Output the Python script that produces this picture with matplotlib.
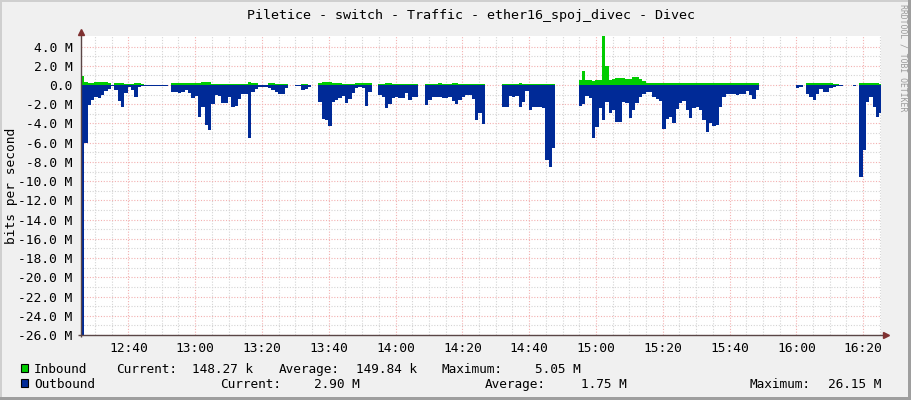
import matplotlib
matplotlib.use("Agg")
import matplotlib.pyplot as plt
import matplotlib.dates as mdates
import matplotlib.ticker as mticker
from matplotlib.patches import Rectangle
import numpy as np
import pandas as pd

nan = np.nan

# one sample per minute, first sample at 12:25:50
start_time = "2024-01-01 12:25:50"

# traffic in Mbit/s (nan = no data)
inbound_m = [
    0.97, 0.35, 0.17, 0.20, 0.28, 0.28, 0.28, 0.28, 0.17, 0.03,
    0.24, 0.24, 0.24, 0.12, 0.12, 0.10, 0.24, 0.24, 0.10, 0.02,
    0.02, 0.02, 0.02, 0.02, 0.02, 0.02, nan, 0.17, 0.17, 0.17,
    0.17, 0.17, 0.17, 0.17, 0.17, 0.17, 0.28, 0.28, 0.28, 0.13,
    0.13, 0.13, 0.13, 0.13, 0.13, 0.13, 0.13, 0.13, 0.13, 0.13,
    0.28, 0.17, 0.17, 0.05, 0.05, 0.05, 0.17, 0.17, 0.10, 0.10,
    0.10, 0.10, nan, nan, 0.03, 0.03, 0.15, 0.15, 0.05, nan,
    nan, 0.25, 0.30, 0.35, 0.35, 0.17, 0.17, 0.17, 0.10, 0.10,
    0.10, 0.10, 0.17, 0.17, 0.17, 0.17, 0.17, nan, nan, 0.10,
    0.10, 0.17, 0.17, 0.12, 0.12, 0.12, 0.12, 0.12, 0.12, 0.12,
    0.12, nan, nan, 0.10, 0.10, 0.12, 0.12, 0.17, 0.12, 0.12,
    0.12, 0.17, 0.17, 0.12, 0.12, 0.12, 0.12, 0.14, 0.14, 0.14,
    0.14, nan, nan, nan, nan, nan, 0.14, 0.14, 0.10, 0.10,
    0.10, 0.25, 0.12, 0.10, 0.10, 0.10, 0.10, 0.10, 0.10, 0.10,
    0.10, 0.10, nan, nan, nan, nan, nan, nan, nan, 0.52,
    1.50, 0.55, 0.50, 0.40, 0.50, 0.50, 5.05, 1.97, 0.55, 0.60,
    0.76, 0.76, 0.76, 0.60, 0.65, 0.83, 0.80, 0.60, 0.45, 0.17,
    0.17, 0.17, 0.17, 0.17, 0.17, 0.17, 0.17, 0.24, 0.24, 0.17,
    0.17, 0.17, 0.17, 0.17, 0.17, 0.17, 0.24, 0.24, 0.17, 0.17,
    0.24, 0.24, 0.17, 0.17, 0.17, 0.17, 0.17, 0.17, 0.17, 0.17,
    0.17, 0.17, 0.17, nan, nan, nan, nan, nan, nan, nan,
    nan, nan, nan, nan, 0.05, 0.05, nan, 0.20, 0.20, 0.25,
    0.25, 0.25, 0.25, 0.20, 0.20, 0.15, 0.15, 0.05, nan, nan,
    nan, 0.02, nan, 0.20, 0.20, 0.20, 0.20, 0.20, 0.20, 0.15,
]

outbound_m = [
    26.15, 6.0, 2.1, 1.6, 1.2, 1.3, 1.05, 0.6, 0.4, 0.08,
    0.5, 1.7, 2.3, 0.85, 0.2, 0.5, 1.2, 0.25, 0.1, 0.08,
    0.08, 0.08, 0.08, 0.08, 0.08, 0.08, nan, 0.7, 0.75, 0.8,
    0.75, 0.5, 0.8, 1.4, 1.1, 3.3, 2.3, 4.2, 4.7, 2.0,
    1.05, 1.1, 1.9, 1.9, 1.2, 2.25, 2.2, 1.5, 0.9, 0.9,
    5.5, 0.7, 0.4, 0.25, 0.25, 0.2, 0.3, 0.5, 0.7, 0.9,
    0.9, 0.35, nan, nan, 0.08, 0.08, 0.55, 0.4, 0.2, nan,
    nan, 1.8, 3.5, 3.6, 4.3, 1.8, 1.6, 1.3, 1.1, 1.9,
    1.5, 0.8, 0.35, 0.25, 0.3, 2.15, 0.7, nan, nan, 1.05,
    1.2, 2.4, 2.0, 1.4, 1.2, 1.3, 1.3, 0.8, 1.6, 1.2,
    1.2, nan, nan, 2.1, 1.55, 1.2, 1.25, 1.25, 1.35, 1.3,
    1.2, 1.7, 2.0, 1.6, 1.2, 1.0, 1.05, 1.5, 3.6, 2.9,
    4.1, nan, nan, nan, nan, nan, 2.3, 2.3, 1.1, 1.2,
    1.1, 2.3, 1.8, 0.6, 2.6, 2.3, 2.3, 2.3, 2.35, 7.8,
    8.55, 6.5, nan, nan, nan, nan, nan, nan, nan, 2.2,
    2.0, 1.1, 1.3, 5.5, 4.4, 2.4, 3.6, 1.8, 2.9, 2.6,
    3.8, 3.8, 1.8, 1.85, 3.4, 2.6, 1.9, 1.2, 0.9, 0.7,
    0.7, 1.2, 1.5, 1.7, 4.55, 3.55, 3.3, 4.0, 2.5, 1.9,
    1.7, 2.6, 3.45, 2.4, 2.3, 2.6, 3.6, 4.85, 4.0, 4.3,
    4.15, 2.3, 1.2, 0.9, 0.9, 0.95, 1.05, 0.9, 0.9, 0.6,
    1.0, 1.5, 0.55, nan, nan, nan, nan, nan, nan, nan,
    nan, nan, nan, nan, 0.35, 0.2, nan, 0.95, 1.2, 1.55,
    0.95, 0.4, 0.7, 0.7, 0.35, 0.2, 0.1, 0.08, nan, nan,
    nan, 0.08, nan, 9.6, 6.75, 1.8, 1.2, 2.3, 3.3, 2.9,
]

title = "Piletice - switch - Traffic - ether16_spoj_divec - Divec"
y_label = "bits per second"
watermark = "RRDTOOL / TOBI OETIKER"

in_stats = ["148.27 k", "149.84 k", "5.05 M"]
out_stats = ["2.90 M", "1.75 M", "26.15 M"]

y_min, y_max = -26.0, 5.1
y_major = np.arange(-26, 5, 2)
y_minor = np.arange(-25, 5, 2)

# RRD-ish colours
BACK = "#F0F0F0"
CANVAS = "#FFFFFF"
SHADEA = "#CFCFCF"
SHADEB = "#9E9E9E"
GRID = "#D4D4D4"
MGRID = "#F3B0B0"
AXIS = "#5A4646"
ARROW = "#7F3131"
GREEN = "#00CC00"
BLUE = "#002A97"
MONO = "DejaVu Sans Mono"

W, H = 911, 400
fig = plt.figure(figsize=(W / 100, H / 100), dpi=100, facecolor=BACK)


def fx(px):
    return px / W


def fy(py):
    return 1 - py / H


# plot area 81..881 x 36..335
ax = fig.add_axes([fx(81), fy(335), 800 / W, 299 / H], facecolor=CANVAS)

edges = pd.date_range(start_time, periods=len(inbound_m) + 1, freq="1min")
edges_num = mdates.date2num(edges.to_pydatetime())
inbound = np.array(inbound_m, dtype=float)
outbound = np.array(outbound_m, dtype=float)

ax.stairs(inbound, edges_num, baseline=0, fill=True, color=GREEN, lw=0, zorder=3)
ax.stairs(-outbound, edges_num, baseline=0, fill=True, color=BLUE, lw=0, zorder=3)

x0 = edges_num[0]
ax.set_xlim(x0, x0 + 239.5 / 1440)
ax.set_ylim(y_min, y_max)

# time axis
ax.xaxis.set_major_locator(mdates.MinuteLocator(byminute=[0, 20, 40]))
ax.xaxis.set_minor_locator(mdates.MinuteLocator(byminute=[m for m in range(0, 60, 5) if m % 20]))
ax.xaxis.set_major_formatter(mdates.DateFormatter("%H:%M"))

ax.yaxis.set_major_locator(mticker.FixedLocator(y_major))
ax.yaxis.set_minor_locator(mticker.FixedLocator(y_minor))
ax.yaxis.set_major_formatter(
    mticker.FuncFormatter(lambda v, p: "0.0" if abs(v) < 1e-9 else f"{v:.1f} M"))

ax.grid(which="minor", color=GRID, lw=0.8, ls=(0, (1, 1.5)))
ax.grid(which="major", color=MGRID, lw=0.8, ls=(0, (1, 1.5)))
ax.set_axisbelow(True)

ax.tick_params(which="both", length=0)
ax.tick_params(axis="x", pad=5, labelsize=9.3)
ax.tick_params(axis="y", pad=6, labelsize=9.3)
for lab in ax.get_xticklabels() + ax.get_yticklabels():
    lab.set_family(MONO)

for s in ax.spines.values():
    s.set_visible(False)

# axes with arrows (RRD style)
ax.plot([-0.004, 1.006], [0, 0], transform=ax.transAxes, color=AXIS, lw=1,
        clip_on=False, zorder=5, solid_capstyle="butt")
ax.plot([0, 0], [-0.008, 1.01], transform=ax.transAxes, color=AXIS, lw=1,
        clip_on=False, zorder=5, solid_capstyle="butt")
ax.plot(1.0065, 0, marker=">", ms=4.5, color=ARROW, mec=ARROW,
        transform=ax.transAxes, clip_on=False, zorder=6)
ax.plot(0, 1.014, marker="^", ms=4.5, color=ARROW, mec=ARROW,
        transform=ax.transAxes, clip_on=False, zorder=6)

# title, axis label, watermark
fig.text(fx(471), fy(19), title, ha="center", va="baseline",
         family=MONO, fontsize=9.6, color="black")
fig.text(fx(12), fy(186), y_label, ha="center", va="center", rotation=90,
         family=MONO, fontsize=9.3, color="black")
fig.text(fx(903), fy(4), watermark, ha="center", va="top", rotation=270,
         family=MONO, fontsize=5.9, color="#9A9A9A")

# legend block
legend_rows = [
    ("Inbound", GREEN, 373, [(116, "Current:"), (192, in_stats[0]),
                             (279, "Average:"), (356, in_stats[1]),
                             (441, "Maximum:"), (535, in_stats[2])]),
    ("Outbound", BLUE, 388, [(220, "Current:"), (314, out_stats[0]),
                             (485, "Average:"), (581, out_stats[1]),
                             (750, "Maximum:"), (828, out_stats[2])]),
]
for name, col, base, cols in legend_rows:
    fig.add_artist(Rectangle((fx(21), fy(base - 1)), 7 / W, 8 / H,
                             transform=fig.transFigure, facecolor=col,
                             edgecolor="black", lw=0.8))
    fig.text(fx(34), fy(base), name, ha="left", va="baseline",
             family=MONO, fontsize=9.2, color="black")
    for xp, txt in cols:
        fig.text(fx(xp), fy(base), txt, ha="left", va="baseline",
                 family=MONO, fontsize=9.2, color="black")

# shaded frame around the whole image
fig.add_artist(Rectangle((0, 1 - 2 / H), 1, 2 / H, transform=fig.transFigure,
                         facecolor=SHADEA, lw=0))
fig.add_artist(Rectangle((0, 0), 2 / W, 1, transform=fig.transFigure,
                         facecolor=SHADEA, lw=0))
fig.add_artist(Rectangle((0, 0), 1, 3 / H, transform=fig.transFigure,
                         facecolor=SHADEB, lw=0))
fig.add_artist(Rectangle((1 - 3 / W, 0), 3 / W, 1, transform=fig.transFigure,
                         facecolor=SHADEB, lw=0))

fig.savefig("out.png", dpi=100, facecolor=BACK)
